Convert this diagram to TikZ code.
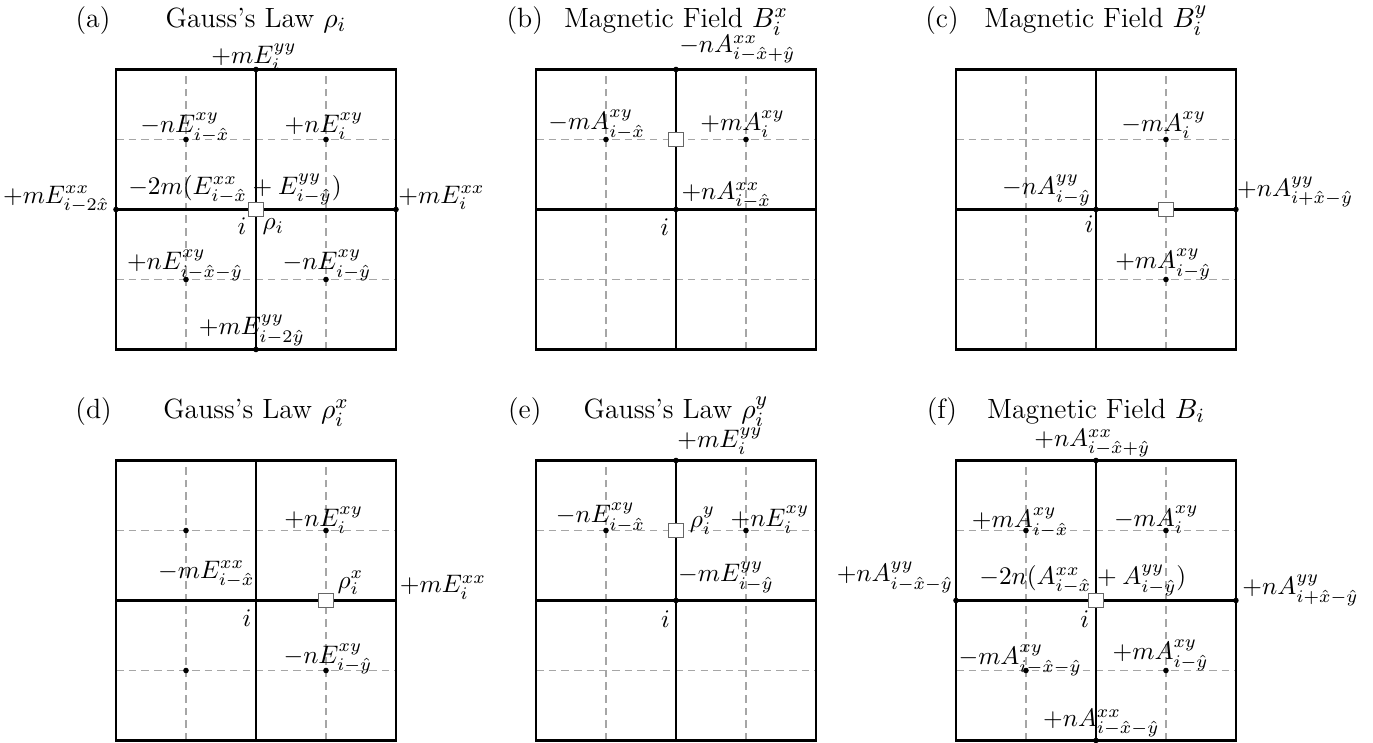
\documentclass[tikz,border=0pt]{standalone}
\usepackage{amsmath,amssymb}
\usepackage{tikz}
\usetikzlibrary{positioning}

\begin{document}
\begin{tikzpicture}[
		x=1.944cm, y=1.944cm,
		thickline/.style={line width=1.1pt},
		halfline/.style={black!35, line width=0.45pt, dash pattern=on 3pt off 2pt},
		plaq/.style={draw=black!60, fill=white, line width=0.45pt,
				minimum size=5.8pt, inner sep=0pt},
		lab/.style={inner sep=0pt, anchor=base},
		labw/.style={inner sep=0pt, anchor=base west},
		labe/.style={inner sep=0pt, anchor=base east},
		headline/.style={inner sep=0pt, anchor=base, font=\fontsize{11}{13}\selectfont}
	]

	\useasboundingbox (-1.8286,-3.8107) rectangle (7.979,1.4964);

	% lattice of every panel
	\foreach \px/\py in {0/0, 3/0, 6/0, 0/-2.793, 3/-2.793, 6/-2.793} {
		\begin{scope}[shift={(\px,\py)}]
			\draw[halfline] (-1,-0.5) -- (1,-0.5) (-1,0.5) -- (1,0.5)
			(-0.5,-1) -- (-0.5,1) (0.5,-1) -- (0.5,1);
			\draw[thickline] (-1,-1) rectangle (1,1) (-1,0) -- (1,0) (0,-1) -- (0,1);
		\end{scope}
	}

	% (a)
	\begin{scope}[shift={(0,0)}]
		\node[headline] (a-tag) at (-1.164,1.30) {(a)};
		\node[headline] (a-title) at (0,1.30) {Gauss's Law $\rho_i$};
		\foreach \p in {(0,1),(-1,0),(1,0),(0,-1),(-0.5,0.5),(0.5,0.5),(-0.5,-0.5),(0.5,-0.5)}
		\fill \p circle (1.1pt);
		\node[plaq] (a-rho) at (0,0) {};
		\node[lab] (a-t) at (-0.014,1.044) {$+mE_i^{yy}$};
		\node[lab] (a-ul) at (-0.507,0.55) {$-nE_{i-\hat{x}}^{xy}$};
		\node[lab] (a-ur) at (0.486,0.55) {$+nE_i^{xy}$};
		\node[lab] (a-c) at (-0.15,0.11) {$-2m(E_{i-\hat{x}}^{xx}+E_{i-\hat{y}}^{yy})$};
		\node[labe] (a-l) at (-1.043,0.046) {$+mE_{i-2\hat{x}}^{xx}$};
		\node[labw] (a-r) at (1.014,0.046) {$+mE_i^{xx}$};
		\node[lab] (a-i) at (-0.1,-0.182) {$i$};
		\node[labw] (a-rholab) at (0.043,-0.146) {$\rho_i$};
		\node[lab] (a-ll) at (-0.507,-0.432) {$+nE_{i-\hat{x}-\hat{y}}^{xy}$};
		\node[lab] (a-lr) at (0.507,-0.432) {$-nE_{i-\hat{y}}^{xy}$};
		\node[lab] (a-b) at (-0.03,-0.896) {$+mE_{i-2\hat{y}}^{yy}$};
	\end{scope}

	% (b)
	\begin{scope}[shift={(3,0)}]
		\node[headline] (b-tag) at (-1.08,1.30) {(b)};
		\node[headline] (b-title) at (0,1.30) {Magnetic Field $B_i^x$};
		\foreach \p in {(0,1),(0,0),(-0.5,0.5),(0.5,0.5)}
		\fill \p circle (1.1pt);
		\node[plaq] (b-bx) at (0,0.5) {};
		\node[labw] (b-t) at (0.02,1.12) {$-nA_{i-\hat{x}+\hat{y}}^{xx}$};
		\node[lab] (b-ul) at (-0.566,0.571) {$-mA_{i-\hat{x}}^{xy}$};
		\node[lab] (b-ur) at (0.476,0.564) {$+mA_i^{xy}$};
		\node[labw] (b-c) at (0.036,0.071) {$+nA_{i-\hat{x}}^{xx}$};
		\node[lab] (b-i) at (-0.081,-0.186) {$i$};
	\end{scope}

	% (c)
	\begin{scope}[shift={(6,0)}]
		\node[headline] (c-tag) at (-1.10,1.30) {(c)};
		\node[headline] (c-title) at (0,1.30) {Magnetic Field $B_i^y$};
		\foreach \p in {(0,0),(1,0),(0.5,0.5),(0.5,-0.5)}
		\fill \p circle (1.1pt);
		\node[plaq] (c-by) at (0.5,0) {};
		\node[lab] (c-ur) at (0.484,0.559) {$-mA_i^{xy}$};
		\node[labe] (c-c) at (-0.031,0.107) {$-nA_{i-\hat{y}}^{yy}$};
		\node[labw] (c-r) at (1.005,0.095) {$+nA_{i+\hat{x}-\hat{y}}^{yy}$};
		\node[lab] (c-lr) at (0.481,-0.424) {$+mA_{i-\hat{y}}^{xy}$};
		\node[lab] (c-i) at (-0.049,-0.166) {$i$};
	\end{scope}

	% (d)
	\begin{scope}[shift={(0,-2.793)}]
		\node[headline] (d-tag) at (-1.16,1.30) {(d)};
		\node[headline] (d-title) at (0,1.30) {Gauss's Law $\rho_i^x$};
		\foreach \p in {(-0.5,0.5),(0.5,0.5),(-0.5,-0.5),(0.5,-0.5)}
		\fill \p circle (1.1pt);
		\node[plaq] (d-rho) at (0.5,0) {};
		\node[lab] (d-ur) at (0.484,0.53) {$+nE_i^{xy}$};
		\node[labe] (d-c) at (-0.007,0.16) {$-mE_{i-\hat{x}}^{xx}$};
		\node[labw] (d-rholab) at (0.579,0.089) {$\rho_i^x$};
		\node[labw] (d-r) at (1.024,0.055) {$+mE_i^{xx}$};
		\node[lab] (d-i) at (-0.064,-0.187) {$i$};
		\node[lab] (d-lr) at (0.514,-0.449) {$-nE_{i-\hat{y}}^{xy}$};
	\end{scope}

	% (e)
	\begin{scope}[shift={(3,-2.793)}]
		\node[headline] (e-tag) at (-1.08,1.30) {(e)};
		\node[headline] (e-title) at (0,1.30) {Gauss's Law $\rho_i^y$};
		\foreach \p in {(0,1),(0,0),(-0.5,0.5),(0.5,0.5)}
		\fill \p circle (1.1pt);
		\node[plaq] (e-rho) at (0,0.5) {};
		\node[labw] (e-t) at (0.007,1.095) {$+mE_i^{yy}$};
		\node[lab] (e-ul) at (-0.539,0.555) {$-nE_{i-\hat{x}}^{xy}$};
		\node[labw] (e-rholab) at (0.095,0.524) {$\rho_i^y$};
		\node[lab] (e-ur) at (0.671,0.531) {$+nE_i^{xy}$};
		\node[labw] (e-c) at (0.012,0.135) {$-mE_{i-\hat{y}}^{yy}$};
		\node[lab] (e-i) at (-0.075,-0.19) {$i$};
	\end{scope}

	% (f)
	\begin{scope}[shift={(6,-2.793)}]
		\node[headline] (f-tag) at (-1.10,1.30) {(f)};
		\node[headline] (f-title) at (0,1.30) {Magnetic Field $B_i$};
		\foreach \p in {(0,1),(-1,0),(1,0),(0,-1),(-0.5,0.5),(0.5,0.5),(-0.5,-0.5),(0.5,-0.5)}
		\fill \p circle (1.1pt);
		\node[plaq] (f-b) at (0,0) {};
		\node[lab] (f-t) at (-0.026,1.102) {$+nA_{i-\hat{x}+\hat{y}}^{xx}$};
		\node[lab] (f-ul) at (-0.541,0.519) {$+mA_{i-\hat{x}}^{xy}$};
		\node[lab] (f-ur) at (0.431,0.531) {$-mA_i^{xy}$};
		\node[lab] (f-c) at (-0.094,0.114) {$-2n(A_{i-\hat{x}}^{xx}+A_{i-\hat{y}}^{yy})$};
		\node[labe] (f-l) at (-1.017,0.136) {$+nA_{i-\hat{x}-\hat{y}}^{yy}$};
		\node[labw] (f-r) at (1.043,0.043) {$+nA_{i+\hat{x}-\hat{y}}^{yy}$};
		\node[lab] (f-i) at (-0.08,-0.195) {$i$};
		\node[lab] (f-ll) at (-0.541,-0.457) {$-mA_{i-\hat{x}-\hat{y}}^{xy}$};
		\node[lab] (f-lr) at (0.462,-0.421) {$+mA_{i-\hat{y}}^{xy}$};
		\node[lab] (f-b2) at (0.038,-0.898) {$+nA_{i-\hat{x}-\hat{y}}^{xx}$};
	\end{scope}

\end{tikzpicture}
\end{document}
